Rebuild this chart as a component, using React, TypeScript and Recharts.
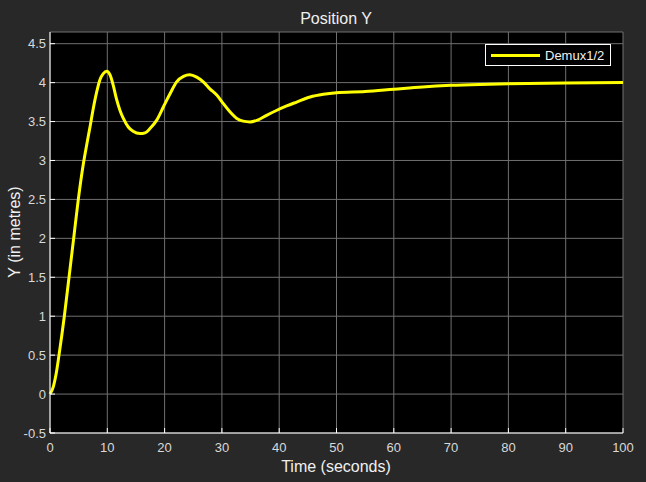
import React from "react"
import {
  LineChart,
  Line,
  XAxis,
  YAxis,
  CartesianGrid,
} from "recharts"

// time (s) and position Y (m)
const TIME = [0, 0.6, 1.05, 1.57, 2.5, 3.32, 4.13, 4.94, 5.85, 6.4, 6.98, 7.56, 8.15, 8.73, 9.3, 9.9, 10.5, 11.05, 11.6, 12.2, 12.8, 13.66, 14.5, 15.7, 16.6, 17.45, 18.6, 19.8, 20.9, 22.1, 23.3, 24.4, 25.6, 26.75, 27.9, 29.1, 30.25, 31.4, 32.6, 33.7, 34.9, 36.1, 37.8, 39.6, 41.3, 43.05, 45.4, 47.7, 50, 55, 60, 65, 70, 75, 80, 90, 100]
const POS_Y = [0, 0.1, 0.25, 0.5, 1.0, 1.5, 2.0, 2.5, 2.97, 3.2, 3.43, 3.67, 3.88, 4.04, 4.115, 4.145, 4.095, 3.96, 3.79, 3.645, 3.54, 3.43, 3.375, 3.345, 3.355, 3.41, 3.515, 3.69, 3.85, 4.01, 4.08, 4.1, 4.07, 4.01, 3.92, 3.84, 3.73, 3.625, 3.54, 3.505, 3.495, 3.515, 3.58, 3.645, 3.70, 3.75, 3.815, 3.85, 3.87, 3.885, 3.915, 3.945, 3.965, 3.977, 3.985, 3.995, 4.0]

const X_TICKS = [0, 10, 20, 30, 40, 50, 60, 70, 80, 90, 100]
const Y_TICKS = [-0.5, 0, 0.5, 1, 1.5, 2, 2.5, 3, 3.5, 4, 4.5]

const TITLE = "Position Y"
const X_LABEL = "Time (seconds)"
const Y_LABEL = "Y (in metres)"
const SERIES_NAME = "Demux1/2"

const FONT = "'Liberation Sans', Arial, sans-serif"
const TICK_COLOR = "#d9d9d9"
const TICK_LEN = 5

const chartData = TIME.map((t, i) => ({ t, y: POS_Y[i] }))

function BottomTick({ x, y, payload }: any) {
  return (
    <g>
      <line x1={x} y1={y} x2={x} y2={y - TICK_LEN} stroke="#fff" />
      <text x={x} y={y + 19} textAnchor="middle" fill={TICK_COLOR} fontSize={13} fontFamily={FONT}>
        {payload.value}
      </text>
    </g>
  )
}

function TopTick({ x, y }: any) {
  return <line x1={x} y1={y} x2={x} y2={y + TICK_LEN} stroke="#fff" />
}

function LeftTick({ x, y, payload }: any) {
  return (
    <g>
      <line x1={x} y1={y} x2={x + TICK_LEN} y2={y} stroke="#fff" />
      <text x={x - 4} y={y + 4.5} textAnchor="end" fill={TICK_COLOR} fontSize={13} fontFamily={FONT}>
        {payload.value}
      </text>
    </g>
  )
}

function RightTick({ x, y }: any) {
  return <line x1={x} y1={y} x2={x - TICK_LEN} y2={y} stroke="#fff" />
}

export default function App() {
  return (
    <div
      style={{
        position: "fixed",
        left: 0,
        top: 0,
        width: 646,
        height: 482,
        background: "#282828",
        fontFamily: FONT,
      }}
    >
      <LineChart width={646} height={482} data={chartData} margin={{ top: 32, right: 23, left: 0, bottom: 0 }}>
        <CartesianGrid fill="#000" stroke="#707070" strokeWidth={1} />
        <XAxis
          dataKey="t"
          type="number"
          domain={[0, 100]}
          ticks={X_TICKS}
          height={49}
          tickSize={0}
          tickMargin={0}
          tickLine={false}
          axisLine={{ stroke: "#fff" }}
          tick={<BottomTick />}
          interval={0}
        />
        <XAxis
          xAxisId="top"
          orientation="top"
          type="number"
          domain={[0, 100]}
          ticks={X_TICKS}
          height={0}
          tickSize={0}
          tickMargin={0}
          tickLine={false}
          axisLine={{ stroke: "#fff" }}
          tick={<TopTick />}
          interval={0}
        />
        <YAxis
          type="number"
          domain={[-0.5, 4.65]}
          ticks={Y_TICKS}
          width={50}
          tickSize={0}
          tickMargin={0}
          tickLine={false}
          axisLine={{ stroke: "#fff" }}
          tick={<LeftTick />}
          interval={0}
          allowDataOverflow
        />
        <YAxis
          yAxisId="right"
          orientation="right"
          type="number"
          domain={[-0.5, 4.65]}
          ticks={Y_TICKS}
          width={0}
          tickSize={0}
          tickMargin={0}
          tickLine={false}
          axisLine={{ stroke: "#fff" }}
          tick={<RightTick />}
          interval={0}
          allowDataOverflow
        />
        <Line
          type="monotone"
          dataKey="y"
          name={SERIES_NAME}
          stroke="#ffff00"
          strokeWidth={3}
          dot={false}
          isAnimationActive={false}
        />
        <text x={336} y={24} textAnchor="middle" fill="#f0f0f0" fontSize={16} fontFamily={FONT}>
          {TITLE}
        </text>
        <text x={336} y={472} textAnchor="middle" fill="#f0f0f0" fontSize={16} fontFamily={FONT}>
          {X_LABEL}
        </text>
        <text
          x={20}
          y={232}
          textAnchor="middle"
          fill="#f0f0f0"
          fontSize={16}
          fontFamily={FONT}
          transform="rotate(-90 20 232)"
        >
          {Y_LABEL}
        </text>
      </LineChart>
      <div
        style={{
          position: "absolute",
          left: 485,
          top: 44,
          width: 124,
          height: 20,
          border: "1px solid #fff",
          background: "#000",
          display: "flex",
          alignItems: "center",
        }}
      >
        <div style={{ width: 49, height: 3, background: "#ffff00", marginLeft: 5, marginRight: 5 }} />
        <span style={{ color: "#f0f0f0", fontSize: 13 }}>{SERIES_NAME}</span>
      </div>
    </div>
  )
}
